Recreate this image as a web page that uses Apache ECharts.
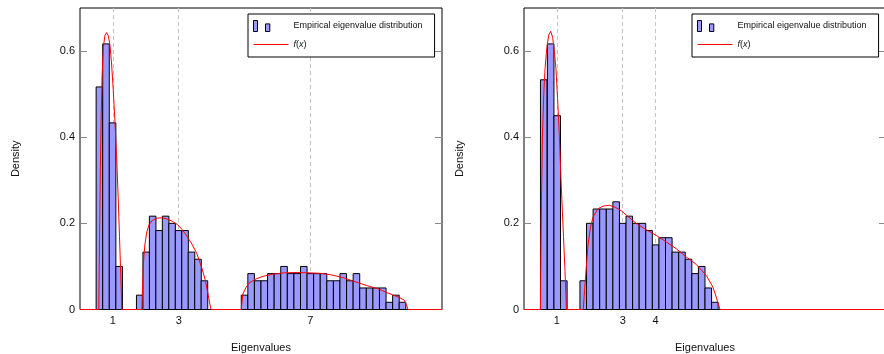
<!DOCTYPE html>
<html><head><meta charset="utf-8">
<script src="https://cdn.jsdelivr.net/npm/echarts@6/dist/echarts.min.js"></script>
<style>html,body{margin:0;padding:0;background:#fff}#c{width:884px;height:354px}</style>
</head><body><div id="c"></div>
<script>
// ---------------- data ----------------
const BIN_WIDTH = 0.2;
const leftBinCenters = [0.59, 0.79, 0.99, 1.19,
  1.815, 2.012, 2.208, 2.405, 2.602, 2.798, 2.995, 3.192, 3.388, 3.585, 3.781,
  5.0, 5.2, 5.4, 5.6, 5.8, 6.0, 6.2, 6.4, 6.6, 6.8, 7.0, 7.2, 7.4, 7.6, 7.8, 8.0, 8.2, 8.4, 8.6, 8.8, 9.0, 9.2, 9.4, 9.6, 9.8];
const leftBinHeights = [0.5167, 0.6167, 0.4333, 0.1,
  0.0333, 0.1333, 0.2167, 0.1833, 0.2167, 0.2, 0.1833, 0.1833, 0.1333, 0.1167, 0.0667,
  0.0333, 0.0833, 0.0667, 0.0667, 0.0833, 0.0833, 0.1, 0.0833, 0.0833, 0.1, 0.0833, 0.0833, 0.0833, 0.0667, 0.0667, 0.0833, 0.0667, 0.0833, 0.05, 0.05, 0.05, 0.05, 0.0167, 0.0333, 0.0167];
const rightBinCenters = [0.60, 0.81, 1.01, 1.21,
  1.8, 2.0, 2.2, 2.4, 2.6, 2.8, 3.0, 3.2, 3.4, 3.6, 3.8, 4.0, 4.2, 4.4, 4.6, 4.8, 5.0, 5.2, 5.4, 5.6, 5.8];
const rightBinHeights = [0.5333, 0.6167, 0.45, 0.0667,
  0.0667, 0.2, 0.2333, 0.2333, 0.2333, 0.25, 0.2, 0.2167, 0.2, 0.2, 0.1833, 0.15, 0.1667, 0.1667, 0.1333, 0.1333, 0.1167, 0.0833, 0.1, 0.05, 0.0167];

const leftCurveX = [0, 0.57, 0.585, 0.60, 0.62, 0.64, 0.67, 0.71, 0.76, 0.81, 0.86, 0.91, 0.96, 1.01, 1.06, 1.11, 1.16, 1.20, 1.23, 1.255, 1.27,
  1.88, 1.90, 1.93, 1.97, 2.03, 2.10, 2.20, 2.35, 2.50, 2.65, 2.80, 2.95, 3.10, 3.25, 3.40, 3.55, 3.70, 3.80, 3.88, 3.94, 3.98,
  4.90, 4.95, 5.05, 5.15, 5.35, 5.56, 5.86, 6.20, 6.60, 7.00, 7.30, 7.60, 8.00, 8.30, 8.70, 9.10, 9.30, 9.50, 9.70, 9.85, 9.92, 9.97, 11];
const leftCurveY = [0, 0, 0.1, 0.2, 0.33, 0.43, 0.54, 0.61, 0.637, 0.643, 0.635, 0.615, 0.57, 0.51, 0.44, 0.36, 0.26, 0.17, 0.1, 0.04, 0,
  0, 0.05, 0.11, 0.15, 0.18, 0.197, 0.207, 0.212, 0.213, 0.21, 0.205, 0.198, 0.186, 0.17, 0.152, 0.13, 0.097, 0.07, 0.04, 0.015, 0,
  0, 0.036, 0.052, 0.062, 0.071, 0.077, 0.082, 0.085, 0.086, 0.085, 0.084, 0.081, 0.074, 0.066, 0.056, 0.047, 0.04, 0.034, 0.028, 0.022, 0.011, 0, 0];
const rightCurveX = [0, 0.50, 0.51, 0.53, 0.56, 0.60, 0.64, 0.69, 0.75, 0.81, 0.87, 0.92, 0.97, 1.02, 1.07, 1.11, 1.15, 1.20, 1.24, 1.27, 1.29,
  1.80, 1.84, 1.90, 1.95, 2.02, 2.10, 2.25, 2.40, 2.59, 2.76, 2.96, 3.16, 3.41, 3.72, 4.02, 4.32, 4.63, 4.93, 5.23, 5.54, 5.74, 5.84, 5.92, 5.96, 11];
const rightCurveY = [0, 0, 0.1, 0.25, 0.4, 0.5, 0.56, 0.605, 0.637, 0.646, 0.632, 0.6, 0.56, 0.49, 0.41, 0.33, 0.255, 0.17, 0.1, 0.04, 0,
  0, 0.044, 0.106, 0.153, 0.191, 0.215, 0.234, 0.240, 0.242, 0.238, 0.229, 0.216, 0.200, 0.185, 0.172, 0.157, 0.141, 0.122, 0.105, 0.079, 0.052, 0.029, 0.009, 0, 0];

const yTicks = [0, 0.2, 0.4, 0.6];
const leftXTicks = [1, 3, 7];
const rightXTicks = [1, 3, 4];
const BAR_NAME = 'Empirical eigenvalue distribution';
const LINE_NAME = 'f(x)';

// ---------------- chart ----------------
const FONT = '"Liberation Sans", Arial, Helvetica, sans-serif';
const RED = '#ff0000';
const chart = echarts.init(document.getElementById('c'), null, {renderer: 'canvas'});

function zip(a, b) { return a.map((v, i) => [v, b[i]]); }
function barData(c, h) { return c.map((v, i) => [v, h[i], BIN_WIDTH]); }

function renderBar(params, api) {
  const x = api.value(0), h = api.value(1), w = api.value(2);
  const p0 = api.coord([x - w / 2, h]);
  const p1 = api.coord([x + w / 2, 0]);
  return {
    type: 'rect',
    shape: {x: p0[0], y: p0[1], width: p1[0] - p0[0], height: p1[1] - p0[1]},
    style: {fill: '#9999ff', stroke: '#000', lineWidth: 1}
  };
}

function xAxis(grid, ticks) {
  return {
    type: 'value', gridIndex: grid, min: 0, max: 11,
    name: 'Eigenvalues', nameLocation: 'middle', nameGap: 33,
    nameTextStyle: {fontFamily: FONT, fontSize: 11, color: '#111'},
    axisLine: {show: false},
    axisTick: {show: false, customValues: ticks},
    axisLabel: {customValues: ticks, fontFamily: FONT, fontSize: 11, color: '#111', margin: 6},
    splitLine: {show: true, lineStyle: {color: '#c4c4c4', type: [4, 3], width: 1}}
  };
}
function yAxis(grid, side) {
  const left = side === 'left';
  return {
    type: 'value', gridIndex: grid, min: 0, max: 0.7, position: side,
    name: left ? 'Density' : '', nameLocation: 'middle', nameGap: 59,
    nameTextStyle: {fontFamily: FONT, fontSize: 11, color: '#111'},
    axisLine: {show: false},
    axisTick: {show: true, inside: true, length: 7, customValues: yTicks, lineStyle: {color: '#888', width: 1}},
    axisLabel: {show: left, customValues: yTicks, fontFamily: FONT, fontSize: 11, color: '#111', margin: 5},
    splitLine: {show: false}
  };
}

const barIcon = 'path://M0,0 L4,0 L4,11 L0,11 Z M12,3.4 L16.3,3.4 L16.3,11 L12,11 Z M35,11';
function legend(left) {
  return {
    orient: 'vertical', left: left, top: 14,
    padding: [6, 12, 8, 5], itemWidth: 35, itemHeight: 11, itemGap: 8,
    backgroundColor: '#fff', borderColor: '#000', borderWidth: 1, borderRadius: 0,
    textStyle: {fontFamily: FONT, fontSize: 9, color: '#111',
      rich: {it: {fontFamily: FONT, fontSize: 9, fontStyle: 'italic', color: '#111'}}},
    formatter: n => n === LINE_NAME ? '{it|f}({it|x})' : n,
    lineStyle: {color: RED, width: 1},
    data: [
      {name: BAR_NAME, icon: barIcon, itemStyle: {color: '#9999ff', borderColor: '#000', borderWidth: 1}},
      {name: LINE_NAME, itemStyle: {color: RED, opacity: 0}}
    ],
    selectedMode: false
  };
}

const gridBase = {top: 8, width: 362, height: 301.5, show: true, borderColor: '#000', borderWidth: 1,
  backgroundColor: 'transparent', containLabel: false, outerBoundsMode: 'none'};

chart.setOption({
  animation: false,
  backgroundColor: '#fff',
  grid: [
    Object.assign({left: 80}, gridBase),
    Object.assign({left: 524}, gridBase)
  ],
  xAxis: [xAxis(0, leftXTicks), xAxis(1, rightXTicks)],
  yAxis: [yAxis(0, 'left'), yAxis(0, 'right'), yAxis(1, 'left'), yAxis(1, 'right')],
  legend: [legend(248), legend(692)],
  series: [
    {type: 'custom', name: BAR_NAME, xAxisIndex: 0, yAxisIndex: 0, renderItem: renderBar,
      encode: {x: 0, y: 1}, data: barData(leftBinCenters, leftBinHeights), z: 2,
      itemStyle: {color: '#9999ff', borderColor: '#000', borderWidth: 1}},
    {type: 'line', name: LINE_NAME, xAxisIndex: 0, yAxisIndex: 0, data: zip(leftCurveX, leftCurveY),
      symbol: 'none', showSymbol: false, z: 3, color: RED, itemStyle: {color: RED}, lineStyle: {color: RED, width: 1}},
    {type: 'custom', name: BAR_NAME, xAxisIndex: 1, yAxisIndex: 2, renderItem: renderBar,
      encode: {x: 0, y: 1}, data: barData(rightBinCenters, rightBinHeights), z: 2,
      itemStyle: {color: '#9999ff', borderColor: '#000', borderWidth: 1}},
    {type: 'line', name: LINE_NAME, xAxisIndex: 1, yAxisIndex: 2, data: zip(rightCurveX, rightCurveY),
      symbol: 'none', showSymbol: false, z: 3, color: RED, itemStyle: {color: RED}, lineStyle: {color: RED, width: 1}}
  ]
});
</script></body></html>
